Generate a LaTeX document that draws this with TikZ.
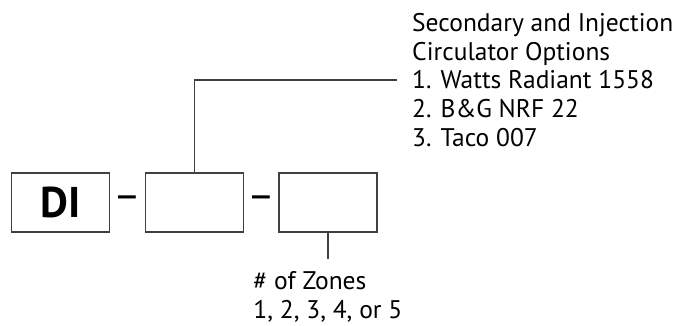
\documentclass[tikz,border=0pt]{standalone}
\usepackage{fontspec}
\setmainfont{PT Sans}
\usetikzlibrary{positioning}
\begin{document}
\begin{tikzpicture}[x=1pt, y=-1pt,
		field/.style={rectangle, draw=black!75, line width=1.3pt, minimum width=98pt, minimum height=59pt, inner sep=0pt},
		sep/.style={minimum width=34pt, inner sep=0pt, font=\fontsize{42}{42}\selectfont},
		note/.style={align=left, inner sep=0pt, font=\fontsize{25.5}{28.8}\selectfont},
		wire/.style={draw=black!75, line width=1.3pt}]
			\useasboundingbox (0,0) rectangle (683,325);
			\node [field, font=\fontsize{43}{43}\selectfont\bfseries] (di) at (60.5,202.5) {DI};
			\node [sep] (d1) [right=0pt of di] {--};
			\node [field] (opt) [right=0pt of d1] {};
			\node [sep] (d2) [right=0pt of opt] {--};
			\node [field] (zone) [right=0pt of d2] {};
			
			\node [note, anchor=west, inner xsep=15pt] (circ) at (397,80) {Secondary and Injection\\Circulator Options\\1. Watts Radiant 1558\\2. B\&G NRF 22\\3. Taco 007};
			\node [note, inner ysep=13pt] (zones) [below=26pt of zone] {\# of Zones\\1, 2, 3, 4, or 5};
			
			\draw [wire] (opt.north) |- (circ.west);
			\draw [wire] (zone.south) -- (zones.north);
		\end{tikzpicture}
\end{document}
